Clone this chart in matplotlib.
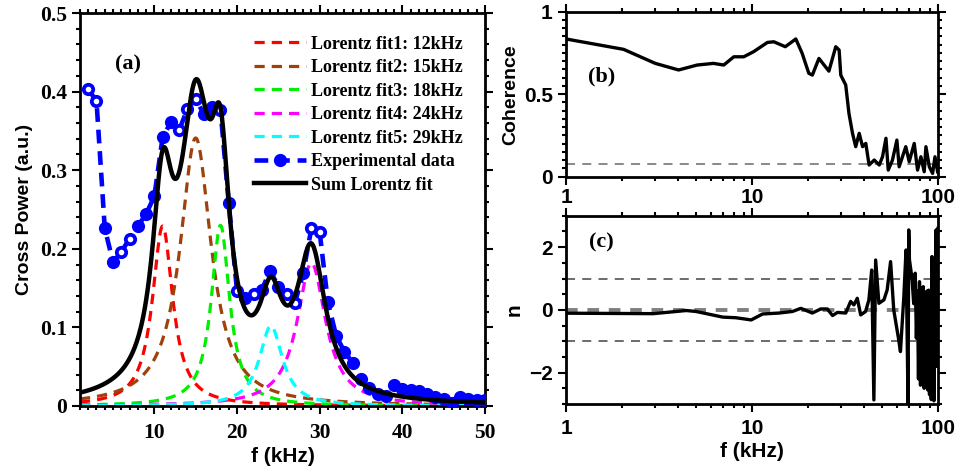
import numpy as np
import matplotlib
matplotlib.use("Agg")
import matplotlib.pyplot as plt
from matplotlib.ticker import MultipleLocator, FixedLocator, FixedFormatter, LogLocator, NullFormatter

# ---------------- data ----------------
# (a) experimental cross power
exp_f = [2, 3, 4, 5, 6, 7, 8, 9, 10, 11, 12, 13, 14, 15, 16, 17, 18, 19, 20, 21,
         22, 23, 24, 25, 26, 27, 28, 29, 30, 31, 32, 33, 34, 35, 36, 37, 38, 39,
         40, 41, 42, 43, 44, 45, 46, 47, 48, 49, 50]
exp_p = [0.403, 0.388, 0.226, 0.183, 0.196, 0.213, 0.229, 0.244, 0.267, 0.342,
         0.361, 0.351, 0.378, 0.391, 0.371, 0.381, 0.377, 0.258, 0.146, 0.138,
         0.142, 0.148, 0.172, 0.152, 0.143, 0.131, 0.169, 0.226, 0.221, 0.132,
         0.089, 0.069, 0.055, 0.034, 0.023, 0.015, 0.013, 0.027, 0.022, 0.020,
         0.019, 0.015, 0.011, 0.009, 0.004, 0.011, 0.009, 0.008, 0.008]
hollow_f = [2, 3, 6, 7, 13, 14, 15, 18, 20, 22, 26, 27, 29, 30]

# Lorentz fit parameters: amplitude, centre (kHz), half width (kHz)
fit_labels = ["Lorentz fit1: 12kHz", "Lorentz fit2: 15kHz", "Lorentz fit3: 18kHz",
              "Lorentz fit4: 24kHz", "Lorentz fit5: 29kHz"]
fit_amp = [0.229, 0.341, 0.230, 0.182, 0.102]
fit_f0 = [11.0, 15.0, 18.0, 29.0, 24.1]
fit_gam = [1.5, 2.3, 1.35, 2.1, 1.7]
fit_colors = ["#ff0000", "#a0400a", "#00ee00", "#ff00ff", "#00ffff"]

# (b) coherence
coh_f = [1.0, 2.04, 3.02, 4.03, 5.07, 6.2, 7.05, 7.98, 9.03, 10.2, 12.1, 13.1, 15.1,
         17.2, 18.6, 20.2, 21.1, 22.9, 25.9, 28.2, 29.4, 30.0, 31.9, 33.2, 34.7,
         36.1, 37.7, 39.3, 40.9, 42.6, 45.4, 48.3, 50.3, 52.5, 54.0, 56.9, 60.1,
         61.8, 64.4, 67.1, 70.0, 74.5, 77.6, 80.9, 84.3, 86.1, 89.8, 93.5, 96.3, 99.5]
coh_v = [0.835, 0.772, 0.687, 0.647, 0.677, 0.687, 0.677, 0.727, 0.727, 0.758,
         0.814, 0.818, 0.788, 0.835, 0.748, 0.627, 0.616, 0.717, 0.640, 0.788,
         0.768, 0.616, 0.556, 0.384, 0.263, 0.182, 0.263, 0.182, 0.202, 0.071,
         0.101, 0.071, 0.121, 0.233, 0.040, 0.101, 0.222, 0.060, 0.121, 0.182,
         0.091, 0.202, 0.040, 0.121, 0.030, 0.182, 0.060, 0.020, 0.121, 0.030]
coh_level = 0.075

# (c) n
n_f = [1.0, 2.94, 4.43, 5.0, 6.96, 8.2, 9.9, 11.4, 14.0, 16.5, 18.3, 21.1, 23.4,
       25.4, 27.1, 28.8, 31.9, 33.9, 35.3, 36.8, 38.4, 40.8, 42.5, 44.0, 45.2,
       46.2, 48.1, 51.2, 53.3, 55.6, 57.8, 61.5, 62.8, 65.5, 67.3, 69.0, 69.6,
       70.2, 72.5, 74.0, 75.4, 76.5, 77.5, 78.5, 79.5, 80.5, 81.5, 82.5, 83.3,
       84.2, 85.0, 86.0, 87.0, 88.0, 89.0, 90.0, 91.2, 92.0, 92.8, 93.5, 94.2,
       95.0, 95.6, 96.3, 97.0, 97.6, 98.3, 99.0, 99.6, 100.0]
n_v = [-0.105, -0.12, -0.02, -0.05, -0.23, -0.25, -0.32, -0.13, -0.10, -0.05,
       0.05, -0.10, 0.03, 0.03, -0.18, -0.08, -0.10, 0.27, 0.16, 0.37, -0.16,
       -0.05, 0.32, 1.27, -2.87, 1.59, 0.21, 0.32, 0.64, 1.54, 0.0, -0.96, -1.33,
       0.42, 1.91, -3.0, 2.55, 1.6, 1.0, 0.2, 1.17, -0.9, 0.6, -2.2, 0.9, -2.4,
       0.7, -2.0, 0.74, -2.5, 0.5, -2.3, 0.6, -2.55, 0.63, -2.7, 0.4, -2.86, 1.70,
       -2.6, 1.2, -2.9, 1.6, -1.8, 0.8, 2.55, -1.8, 2.0, -1.4, 2.6]
n_levels = [-1, 0, 1]

# ---------------- figure ----------------
serif_b = dict(family="Liberation Serif", weight="bold")
sans_b = dict(family="Liberation Sans", weight="bold")

fig = plt.figure(figsize=(9.6, 4.74), dpi=100)
axa = fig.add_axes([0.0833, 0.1435, 0.4219, 0.829])
axb = fig.add_axes([0.5896, 0.6272, 0.3875, 0.348])
axc = fig.add_axes([0.5896, 0.1477, 0.3875, 0.397])

# ---- (a)
ff = np.linspace(1, 50, 600)
total = np.zeros_like(ff)
for A, f0, g, c, lab in zip(fit_amp, fit_f0, fit_gam, fit_colors, fit_labels):
    y = A / (1 + ((ff - f0) / g) ** 2)
    total += y
    axa.plot(ff, y, ls=(0, (3.2, 2.2)), color=c, lw=2.3, label=lab, zorder=2)

axa.plot(exp_f, exp_p, ls=(0, (3.0, 1.7)), color="#0000ff", lw=3.3, marker="o",
         markersize=9.5, markeredgewidth=0, label="Experimental data", zorder=3)
hf = [f for f in exp_f if f in hollow_f]
hp = [p for f, p in zip(exp_f, exp_p) if f in hollow_f]
axa.plot(hf, hp, ls="none", marker="o", markersize=4, color="white",
         markeredgewidth=0, zorder=3.5)
axa.plot(ff, total, color="black", lw=3.2, label="Sum Lorentz fit", zorder=4)

axa.set_xlim(1, 50)
axa.set_ylim(0, 0.5)
axa.xaxis.set_major_locator(FixedLocator([10, 20, 30, 40, 50]))
axa.xaxis.set_minor_locator(MultipleLocator(1))
axa.yaxis.set_major_locator(FixedLocator([0, 0.1, 0.2, 0.3, 0.4, 0.5]))
axa.yaxis.set_major_formatter(FixedFormatter(["0", "0.1", "0.2", "0.3", "0.4", "0.5"]))
axa.yaxis.set_minor_locator(MultipleLocator(0.02))
axa.tick_params(which="both", direction="out", top=True, right=True, width=1.5)
axa.tick_params(which="major", length=6)
axa.tick_params(which="minor", length=3)
axa.tick_params(axis="x", which="major", pad=6)
for lbl in axa.get_xticklabels() + axa.get_yticklabels():
    lbl.set_fontproperties(serif_b)
    lbl.set_fontsize(15.5)
for s in axa.spines.values():
    s.set_linewidth(2.0)
axa.set_xlabel("f (kHz)", fontsize=15, labelpad=3, **sans_b)
axa.set_ylabel("Cross Power (a.u.)", fontsize=14, labelpad=5, **sans_b)
axa.text(0.118, 0.868, "(a)", transform=axa.transAxes, fontsize=16,
         ha="center", va="center", **serif_b)
leg = axa.legend(loc="upper right", frameon=False, handlelength=2.9,
                 handletextpad=0.25, labelspacing=0.36, numpoints=1,
                 borderaxespad=0.85, prop=dict(family="Liberation Serif",
                                               weight="bold", size=13))
leg.set_zorder(10)

# ---- (b)
axb.plot(coh_f, coh_v, color="black", lw=2.4, zorder=3)
axb.axhline(coh_level, color="#808080", lw=1.3, ls=(0, (5, 4)), zorder=2)
axb.set_xscale("log")
axb.set_xlim(1, 100)
axb.set_ylim(0, 1)
axb.yaxis.set_major_locator(FixedLocator([0, 0.5, 1]))
axb.yaxis.set_major_formatter(FixedFormatter(["0", "0.5", "1"]))
axb.yaxis.set_minor_locator(MultipleLocator(0.05))
axb.set_ylabel("Coherence", fontsize=14, labelpad=3, **sans_b)
axb.text(0.095, 0.61, "(b)", transform=axb.transAxes, fontsize=16,
         ha="center", va="center", **serif_b)

# ---- (c)
axc.plot(n_f, n_v, color="black", lw=2.4, zorder=3)
axc.axhline(0, color="#808080", lw=2.8, ls=(0, (3, 2.5)), zorder=2)
axc.axhline(1, color="#606060", lw=1.3, ls=(0, (5, 4)), zorder=2)
axc.axhline(-1, color="#606060", lw=1.3, ls=(0, (5, 4)), zorder=2)
axc.set_xscale("log")
axc.set_xlim(1, 100)
axc.set_ylim(-3, 3)
axc.yaxis.set_major_locator(FixedLocator([-2, 0, 2]))
axc.yaxis.set_major_formatter(FixedFormatter(["\u22122", "0", "2"]))
axc.yaxis.set_minor_locator(MultipleLocator(0.5))
axc.set_ylabel("n", fontsize=15, labelpad=4, **sans_b)
axc.set_xlabel("f (kHz)", fontsize=15, labelpad=3, **sans_b)
axc.text(0.095, 0.86, "(c)", transform=axc.transAxes, fontsize=16,
         ha="center", va="center", **serif_b)

for ax in (axb, axc):
    ax.xaxis.set_major_locator(FixedLocator([1, 10, 100]))
    ax.xaxis.set_major_formatter(FixedFormatter(["1", "10", "100"]))
    ax.xaxis.set_minor_locator(LogLocator(base=10, subs=np.arange(2, 10)))
    ax.xaxis.set_minor_formatter(NullFormatter())
    ax.tick_params(which="both", direction="out", top=True, right=True, width=1.5)
    ax.tick_params(which="major", length=6)
    ax.tick_params(which="minor", length=3)
    for lbl in ax.get_xticklabels():
        lbl.set_fontproperties(sans_b)
        lbl.set_fontsize(15)
    for lbl in ax.get_yticklabels():
        lbl.set_fontproperties(sans_b)
        lbl.set_fontsize(15)
    for s in ax.spines.values():
        s.set_linewidth(2.0)
axb.tick_params(axis="x", which="major", pad=2)
axc.tick_params(axis="x", which="major", pad=5)

fig.savefig("out.png", dpi=100)
